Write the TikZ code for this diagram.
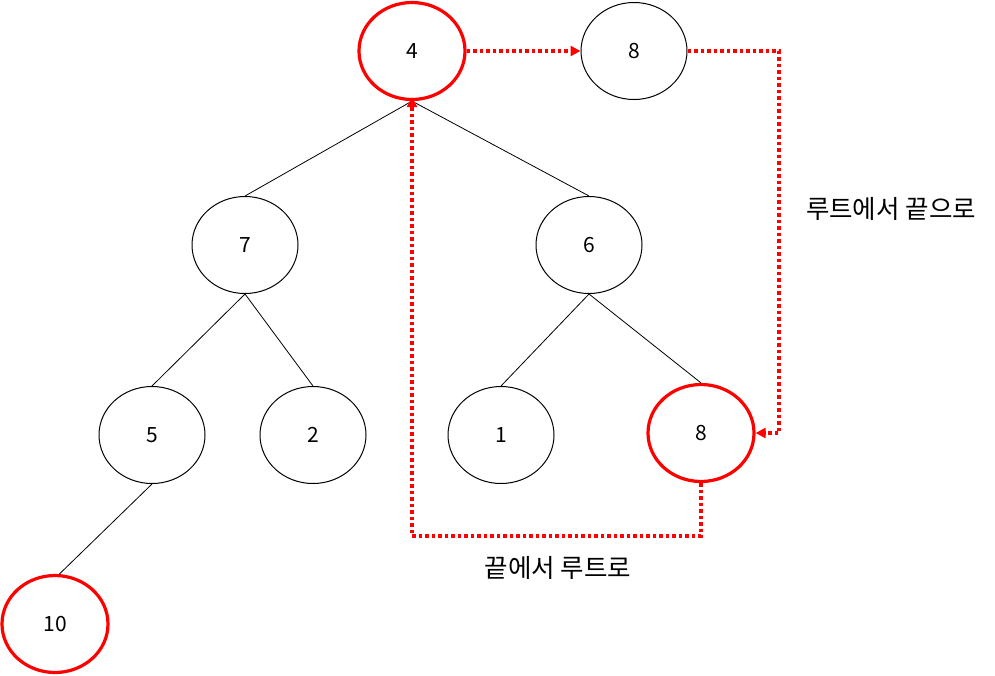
\documentclass[tikz,border=0pt]{standalone}
\usepackage{fontspec}
\setmainfont{Noto Sans CJK KR}
\usetikzlibrary{arrows.meta,shapes.geometric}
\tikzset{
  hnode/.style={ellipse,draw=black,line width=1pt,minimum width=106pt,minimum height=97pt,inner sep=0pt,font=\fontsize{21}{24}\selectfont},
  rednode/.style={hnode,draw=red,line width=3.2pt},
  edge/.style={draw=black,line width=0.8pt},
  redpath/.style={draw=red,line width=3.2pt,dash pattern=on 3.5pt off 3pt,-{Triangle[length=10pt,width=10pt]}},
  lbl/.style={font=\fontsize{25.5}{29}\selectfont}
}
\begin{document}
\begin{tikzpicture}[x=1pt,y=-1pt]
\useasboundingbox (0,0) rectangle (995,675);
\node[rednode] (r4) at (412,51) {4};
\node[hnode] (t8) at (634,51) {8};
\node[hnode] (n7) at (245,245) {7};
\node[hnode] (n6) at (589,245) {6};
\node[hnode] (n5) at (152,435) {5};
\node[hnode] (n2) at (313,435) {2};
\node[hnode] (n1) at (501,435) {1};
\node[rednode] (b8) at (701,433) {8};
\node[rednode] (n10) at (55,624) {10};
\coordinate (c1) at (779,51);
\coordinate (c2) at (779,433);
\coordinate (d1) at (701,536);
\coordinate (d2) at (412,536);
\draw[edge] (r4.south) -- (n7.north);
\draw[edge] (r4.south) -- (n6.north);
\draw[edge] (n7.south) -- (n5.north);
\draw[edge] (n7.south) -- (n2.north);
\draw[edge] (n6.south) -- (n1.north);
\draw[edge] (n6.south) -- (b8.north);
\draw[edge] (n5.south) -- (n10.85);
\draw[redpath] (r4.east) -- (t8.west);
\draw[redpath] (t8.east) -- (c1) -- (c2) -- (b8.east);
\draw[redpath] (b8.south) -- (d1) -- (d2) -- ([yshift=4pt]r4.south);
\node[lbl] (l1) at (891,209) {루트에서 끝으로};
\node[lbl] (l2) at (558,568) {끝에서 루트로};
\end{tikzpicture}
\end{document}
